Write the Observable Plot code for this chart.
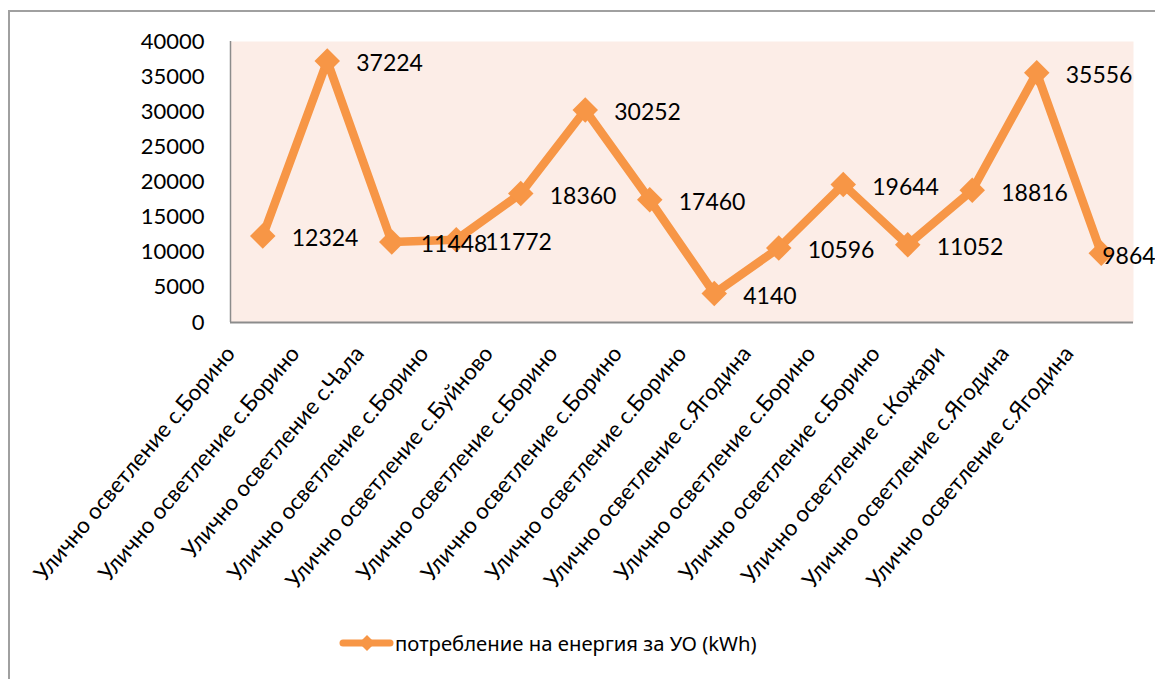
<!DOCTYPE html>
<html>
<head>
<meta charset="utf-8">
<script src="https://cdn.jsdelivr.net/npm/d3@7"></script>
<script src="https://cdn.jsdelivr.net/npm/@observablehq/plot@0.6"></script>
<style>
  html, body { margin: 0; padding: 0; background: #fff; width: 1155px; height: 679px; overflow: hidden; }
  #frame { position: absolute; left: 8px; top: 10px; width: 1200px; height: 700px; border-left: 2px solid #a0a0a0; border-top: 2px solid #a0a0a0; }
  #chart { position: absolute; left: 0; top: 0; }
  #legend { position: absolute; left: 338px; top: 629px; display: flex; align-items: center; font-family: "Noto Sans", sans-serif; font-size: 20.3px; color: #000; }
  #legend svg { margin-right: 1px; }
</style>
</head>
<body>
<div id="frame"></div>
<div id="chart"></div>
<div id="legend"></div>
<script>
const categories = [
  "Улично осветление с.Борино",
  "Улично осветление с.Борино",
  "Улично осветление с.Чала",
  "Улично осветление с.Борино",
  "Улично осветление с.Буйново",
  "Улично осветление с.Борино",
  "Улично осветление с.Борино",
  "Улично осветление с.Борино",
  "Улично осветление с.Ягодина",
  "Улично осветление с.Борино",
  "Улично осветление с.Борино",
  "Улично осветление с.Кожари",
  "Улично осветление с.Ягодина",
  "Улично осветление с.Ягодина"
];
const values = [12324, 37224, 11448, 11772, 18360, 30252, 17460, 4140, 10596, 19644, 11052, 18816, 35556, 9864];
const yTicks = [0, 5000, 10000, 15000, 20000, 25000, 30000, 35000, 40000];
const seriesName = "потребление на енергия за УО (kWh)";

const data = values.map((v, i) => ({i, cat: categories[i], v}));

const W = 1155, H = 600;
const mL = 230, mR = 22, mT = 41, mB = 278;
const halfStep = (W - mL - mR) / categories.length / 2;
const orange = "#f79646";
const font = "Lato, 'Open Sans', sans-serif";

const chart = Plot.plot({
  width: W, height: H,
  marginLeft: mL, marginRight: mR, marginTop: mT, marginBottom: mB,
  style: {fontFamily: font, fontSize: "22px", color: "#000", background: "transparent"},
  x: {type: "point", domain: d3.range(categories.length), padding: 0.5, align: 0.5, round: false, label: null},
  y: {domain: [0, 40000], label: null},
  marks: [
    Plot.frame({fill: "#fcede7", stroke: "none"}),
    Plot.ruleY([0], {stroke: "#8c8c8c", strokeWidth: 2}),
    Plot.ruleX([0], {y1: 0, y2: 40000, dx: -halfStep, stroke: "#8c8c8c", strokeWidth: 1.5}),
    Plot.axisY({ticks: yTicks, tickSize: 0, tickPadding: 26, tickFormat: d => String(d), fontSize: 22, label: null}),
    Plot.axisX({tickRotate: -50, tickSize: 0, tickPadding: 27, tickFormat: i => categories[i], fontSize: 22.5, dx: -32, label: null}),
    Plot.line(data, {x: "i", y: "v", stroke: orange, strokeWidth: 8.5, strokeLinejoin: "miter"}),
    Plot.dot(data, {x: "i", y: "v", symbol: "diamond2", r: 11.5, fill: orange, stroke: "none"}),
    Plot.text(data.slice(0, -1), {x: "i", y: "v", text: d => String(d.v), textAnchor: "start", dx: 29, dy: 3, fontSize: 23, fill: "#000"}),
    Plot.text(data.slice(-1), {x: "i", y: "v", text: d => String(d.v), textAnchor: "start", dx: 1, dy: 3, fontSize: 23, fill: "#000"})
  ]
});
document.getElementById("chart").appendChild(chart);

// legend
const leg = document.getElementById("legend");
const ns = "http://www.w3.org/2000/svg";
const ls = document.createElementNS(ns, "svg");
ls.setAttribute("width", 56); ls.setAttribute("height", 22);
ls.innerHTML = `<line x1="5" y1="11" x2="52" y2="11" stroke="${orange}" stroke-width="7" stroke-linecap="round"/>
<path d="M29,3 L37,11 L29,19 L21,11 Z" fill="${orange}"/>`;
leg.appendChild(ls);
const sp = document.createElement("span");
sp.textContent = seriesName;
leg.appendChild(sp);
</script>
</body>
</html>
